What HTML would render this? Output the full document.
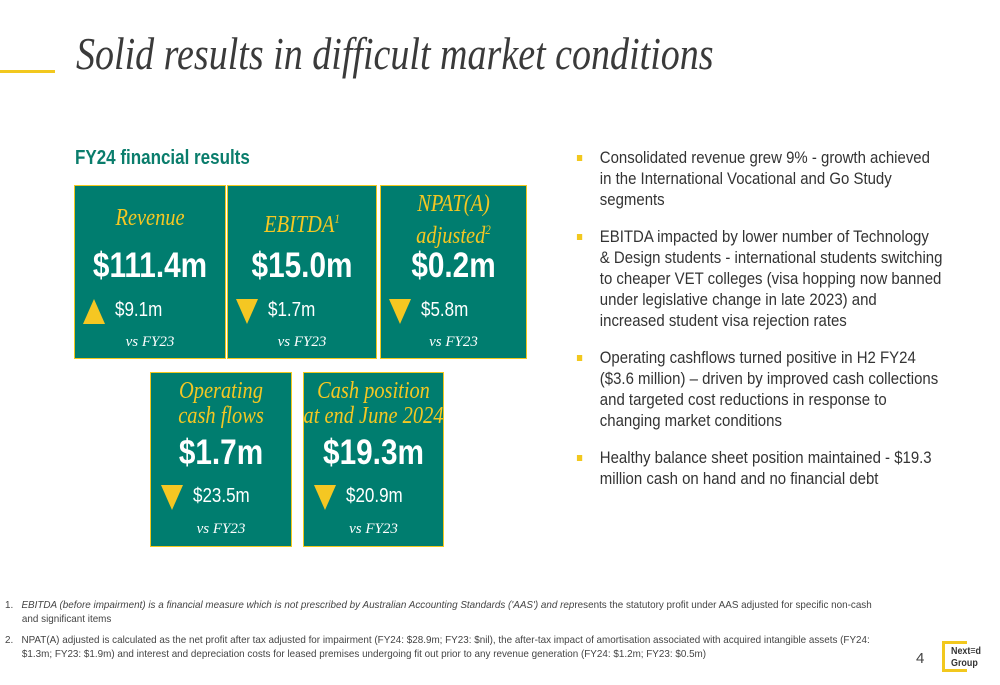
<!DOCTYPE html>
<html><head><meta charset="utf-8"><style>
body{margin:0;width:1000px;height:685px;background:#fff;position:relative;overflow:hidden;font-family:"Liberation Sans",sans-serif}
.abs{position:absolute}
.box{position:absolute;background:#007d6f;border:1.5px solid #f2c81e;box-sizing:border-box;color:#fff;text-align:center}
.lbl{position:absolute;left:-30px;right:-30px;font-family:"Liberation Serif",serif;font-style:italic;color:#f5c722;font-size:24px;line-height:25px;transform:scaleX(0.85)}
.big{position:absolute;left:-30px;right:-30px;font-weight:bold;font-size:35px;transform:scaleX(0.85)}
.chg{position:absolute;font-size:20px;transform:scaleX(0.85);transform-origin:left}
.vs{position:absolute;left:0;right:0;font-family:"Liberation Serif",serif;font-style:italic;font-size:15px}
.up{position:absolute;width:0;height:0;border-left:11px solid transparent;border-right:11px solid transparent;border-bottom:25px solid #f5c722}
.dn{position:absolute;width:0;height:0;border-left:11px solid transparent;border-right:11px solid transparent;border-top:25px solid #f5c722}
li{margin-bottom:16px;white-space:nowrap}
.fn{position:absolute;left:5px;width:925px;font-size:10.5px;line-height:14px;color:#444;padding-left:18px;text-indent:-18px;transform:scaleX(0.94);transform-origin:left;box-sizing:border-box}
</style></head><body>
<div class="abs" style="left:0;top:70px;width:55px;height:3px;background:#f2c81e"></div>
<div class="abs" style="left:76px;top:28px;font-family:'Liberation Serif',serif;font-style:italic;font-size:45px;color:#3a3a3a;white-space:nowrap;transform:scaleX(0.845);transform-origin:left">Solid results in difficult market conditions</div>
<div class="abs" style="left:75px;top:147px;font-size:20px;font-weight:bold;color:#0a7d6c;white-space:nowrap;transform:scaleX(0.85);transform-origin:left">FY24 financial results</div>

<div class="box" style="left:74px;top:185px;width:152px;height:174px">
<div class="lbl" style="top:20px">Revenue</div><div class="big" style="top:60px">$111.4m</div>
<div class="up" style="left:8px;top:113px"></div><div class="chg" style="left:40px;top:113px">$9.1m</div><div class="vs" style="top:148px">vs FY23</div></div>
<div class="box" style="left:227px;top:185px;width:150px;height:174px">
<div class="lbl" style="top:20px">EBITDA<sup style="font-size:13px">1</sup></div><div class="big" style="top:60px">$15.0m</div>
<div class="dn" style="left:8px;top:113px"></div><div class="chg" style="left:40px;top:113px">$1.7m</div><div class="vs" style="top:148px">vs FY23</div></div>
<div class="box" style="left:380px;top:185px;width:147px;height:174px">
<div class="lbl" style="top:6px">NPAT(A)<br>adjusted<sup style="font-size:13px">2</sup></div><div class="big" style="top:60px">$0.2m</div>
<div class="dn" style="left:8px;top:113px"></div><div class="chg" style="left:40px;top:113px">$5.8m</div><div class="vs" style="top:148px">vs FY23</div></div>
<div class="box" style="left:150px;top:372px;width:142px;height:175px">
<div class="lbl" style="top:6px">Operating<br>cash flows</div><div class="big" style="top:60px">$1.7m</div>
<div class="dn" style="left:10px;top:112px"></div><div class="chg" style="left:42px;top:112px">$23.5m</div><div class="vs" style="top:148px">vs FY23</div></div>
<div class="box" style="left:303px;top:372px;width:141px;height:175px">
<div class="lbl" style="top:6px">Cash position<br>at end June 2024</div><div class="big" style="top:60px">$19.3m</div>
<div class="dn" style="left:10px;top:112px"></div><div class="chg" style="left:42px;top:112px">$20.9m</div><div class="vs" style="top:148px">vs FY23</div></div>

<ul class="abs" style="left:569px;top:147px;width:385px;margin:0;padding-left:35px;font-size:17px;line-height:21px;color:#333;list-style:none;transform:scaleX(0.88);transform-origin:left">
<li style="position:relative"><span style="position:absolute;left:-26px;top:8px;width:6px;height:6px;background:#f2c81e"></span>Consolidated revenue grew 9% - growth achieved<br>in the International Vocational and Go Study<br>segments</li>
<li style="position:relative"><span style="position:absolute;left:-26px;top:8px;width:6px;height:6px;background:#f2c81e"></span>EBITDA impacted by lower number of Technology<br>&amp; Design students - international students switching<br>to cheaper VET colleges (visa hopping now banned<br>under legislative change in late 2023) and<br>increased student visa rejection rates</li>
<li style="position:relative"><span style="position:absolute;left:-26px;top:8px;width:6px;height:6px;background:#f2c81e"></span>Operating cashflows turned positive in H2 FY24<br>($3.6 million) – driven by improved cash collections<br>and targeted cost reductions in response to<br>changing market conditions</li>
<li style="position:relative"><span style="position:absolute;left:-26px;top:8px;width:6px;height:6px;background:#f2c81e"></span>Healthy balance sheet position maintained - $19.3<br>million cash on hand and no financial debt</li>
</ul>

<div class="fn" style="top:598px">1.&nbsp;&nbsp; <i>EBITDA (before impairment) is a financial measure which is not prescribed by Australian Accounting Standards ('AAS') and rep</i>resents the statutory profit under AAS adjusted for specific non-cash and significant items</div>
<div class="fn" style="top:633px">2.&nbsp;&nbsp; NPAT(A) adjusted is calculated as the net profit after tax adjusted for impairment (FY24: $28.9m; FY23: $nil), the after-tax impact of amortisation associated with acquired intangible assets (FY24: $1.3m; FY23: $1.9m) and interest and depreciation costs for leased premises undergoing fit out prior to any revenue generation (FY24: $1.2m; FY23: $0.5m)</div>
<div class="abs" style="left:916px;top:650px;font-size:15px;color:#444">4</div>
<div class="abs" style="left:942px;top:641px;width:25px;height:31px;border:3px solid #f2c81e;border-right:none;box-sizing:border-box"></div>
<div class="abs" style="left:951px;top:645px;font-size:10.5px;font-weight:bold;line-height:12px;color:#333;transform:scaleX(0.85);transform-origin:left">Next≡d<br>Group</div>
</body></html>
